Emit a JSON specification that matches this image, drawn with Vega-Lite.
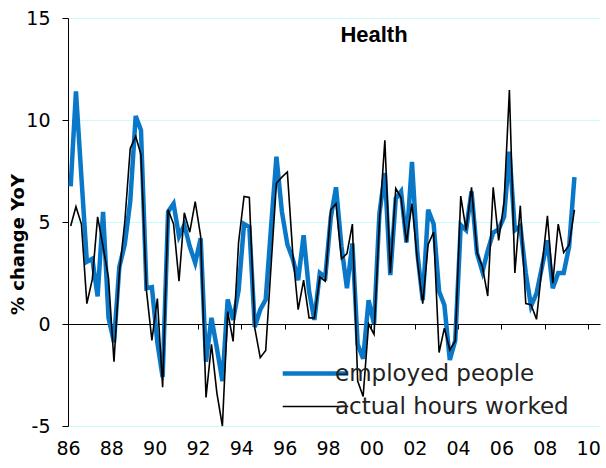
{
  "$schema": "https://vega.github.io/schema/vega-lite/v6.json",
  "width": 532,
  "height": 408,
  "autosize": "none",
  "padding": {"left": 68, "top": 18, "right": 6, "bottom": 42},
  "background": "white",
  "config": {"view": {"stroke": null}, "font": "DejaVu Sans"},
  "title": {"text": "Health", "font": "Liberation Sans", "fontSize": 22, "fontWeight": "bold", "color": "black", "anchor": "middle", "baseline": "alphabetic", "offset": 0, "dx": 40, "dy": 55},
  "data": {"values": [
    {"date": "1986-02-15", "employed people": 6.75, "actual hours worked": 4.8},
    {"date": "1986-05-15", "employed people": 11.4, "actual hours worked": 5.75},
    {"date": "1986-08-15", "employed people": 7.2, "actual hours worked": 4.9},
    {"date": "1986-11-15", "employed people": 3.05, "actual hours worked": 1.0},
    {"date": "1987-02-15", "employed people": 3.2, "actual hours worked": 2.2},
    {"date": "1987-05-15", "employed people": 1.35, "actual hours worked": 5.25},
    {"date": "1987-08-15", "employed people": 5.5, "actual hours worked": 3.8},
    {"date": "1987-11-15", "employed people": 0.3, "actual hours worked": 2.25},
    {"date": "1988-02-15", "employed people": -0.9, "actual hours worked": -1.85},
    {"date": "1988-05-15", "employed people": 2.8, "actual hours worked": 2.5},
    {"date": "1988-08-15", "employed people": 3.9, "actual hours worked": 5.0},
    {"date": "1988-11-15", "employed people": 6.0, "actual hours worked": 8.6},
    {"date": "1989-02-15", "employed people": 10.2, "actual hours worked": 9.2},
    {"date": "1989-05-15", "employed people": 9.5, "actual hours worked": 8.3},
    {"date": "1989-08-15", "employed people": 1.75, "actual hours worked": 1.65},
    {"date": "1989-11-15", "employed people": 1.8, "actual hours worked": -0.8},
    {"date": "1990-02-15", "employed people": -0.9, "actual hours worked": 1.25},
    {"date": "1990-05-15", "employed people": -2.6, "actual hours worked": -3.1},
    {"date": "1990-08-15", "employed people": 5.5, "actual hours worked": 5.6},
    {"date": "1990-11-15", "employed people": 5.9, "actual hours worked": 4.9},
    {"date": "1991-02-15", "employed people": 4.3, "actual hours worked": 2.1},
    {"date": "1991-05-15", "employed people": 4.85, "actual hours worked": 5.45},
    {"date": "1991-08-15", "employed people": 3.8, "actual hours worked": 4.5},
    {"date": "1991-11-15", "employed people": 3.0, "actual hours worked": 6.0},
    {"date": "1992-02-15", "employed people": 4.2, "actual hours worked": 4.3},
    {"date": "1992-05-15", "employed people": -1.85, "actual hours worked": -3.6},
    {"date": "1992-08-15", "employed people": 0.3, "actual hours worked": -1.0},
    {"date": "1992-11-15", "employed people": -1.2, "actual hours worked": -3.4},
    {"date": "1993-02-15", "employed people": -2.8, "actual hours worked": -5.0},
    {"date": "1993-05-15", "employed people": 1.2, "actual hours worked": 0.6},
    {"date": "1993-08-15", "employed people": 0.2, "actual hours worked": -0.85},
    {"date": "1993-11-15", "employed people": 1.65, "actual hours worked": 4.0},
    {"date": "1994-02-15", "employed people": 4.9, "actual hours worked": 6.25},
    {"date": "1994-05-15", "employed people": 4.75, "actual hours worked": 6.2},
    {"date": "1994-08-15", "employed people": -0.15, "actual hours worked": -0.2},
    {"date": "1994-11-15", "employed people": 0.7, "actual hours worked": -1.65},
    {"date": "1995-02-15", "employed people": 1.2, "actual hours worked": -1.3},
    {"date": "1995-05-15", "employed people": 4.7, "actual hours worked": 2.8},
    {"date": "1995-08-15", "employed people": 8.2, "actual hours worked": 6.9},
    {"date": "1995-11-15", "employed people": 5.5, "actual hours worked": 7.2},
    {"date": "1996-02-15", "employed people": 3.9, "actual hours worked": 7.45},
    {"date": "1996-05-15", "employed people": 3.2, "actual hours worked": 3.5},
    {"date": "1996-08-15", "employed people": 2.15, "actual hours worked": 0.7},
    {"date": "1996-11-15", "employed people": 4.35, "actual hours worked": 2.15},
    {"date": "1997-02-15", "employed people": 1.6, "actual hours worked": 0.3},
    {"date": "1997-05-15", "employed people": 0.2, "actual hours worked": 0.3},
    {"date": "1997-08-15", "employed people": 2.5, "actual hours worked": 2.3},
    {"date": "1997-11-15", "employed people": 2.3, "actual hours worked": 2.1},
    {"date": "1998-02-15", "employed people": 5.2, "actual hours worked": 5.6},
    {"date": "1998-05-15", "employed people": 6.7, "actual hours worked": 5.9},
    {"date": "1998-08-15", "employed people": 3.8, "actual hours worked": 3.2},
    {"date": "1998-11-15", "employed people": 1.75, "actual hours worked": 3.45},
    {"date": "1999-02-15", "employed people": 3.95, "actual hours worked": 4.9},
    {"date": "1999-05-15", "employed people": -1.0, "actual hours worked": -2.8},
    {"date": "1999-08-15", "employed people": -1.7, "actual hours worked": -3.55},
    {"date": "1999-11-15", "employed people": 1.17, "actual hours worked": 0.0},
    {"date": "2000-02-15", "employed people": 0.0, "actual hours worked": -0.5},
    {"date": "2000-05-15", "employed people": 5.4, "actual hours worked": 5.0},
    {"date": "2000-08-15", "employed people": 7.4, "actual hours worked": 9.0},
    {"date": "2000-11-15", "employed people": 2.4, "actual hours worked": 2.5},
    {"date": "2001-02-15", "employed people": 6.15, "actual hours worked": 6.65},
    {"date": "2001-05-15", "employed people": 6.5, "actual hours worked": 6.2},
    {"date": "2001-08-15", "employed people": 4.0, "actual hours worked": 4.0},
    {"date": "2001-11-15", "employed people": 7.95, "actual hours worked": 5.9},
    {"date": "2002-02-15", "employed people": 3.45, "actual hours worked": 3.1},
    {"date": "2002-05-15", "employed people": 1.17, "actual hours worked": 1.0},
    {"date": "2002-08-15", "employed people": 5.6, "actual hours worked": 3.9},
    {"date": "2002-11-15", "employed people": 4.9, "actual hours worked": 4.5},
    {"date": "2003-02-15", "employed people": 1.6, "actual hours worked": -1.4},
    {"date": "2003-05-15", "employed people": 0.93, "actual hours worked": -0.2},
    {"date": "2003-08-15", "employed people": -1.76, "actual hours worked": -1.27},
    {"date": "2003-11-15", "employed people": -0.8, "actual hours worked": -0.83},
    {"date": "2004-02-15", "employed people": 4.85, "actual hours worked": 6.27},
    {"date": "2004-05-15", "employed people": 4.6, "actual hours worked": 4.6},
    {"date": "2004-08-15", "employed people": 6.5, "actual hours worked": 6.7},
    {"date": "2004-11-15", "employed people": 3.47, "actual hours worked": 3.5},
    {"date": "2005-02-15", "employed people": 2.56, "actual hours worked": 2.8},
    {"date": "2005-05-15", "employed people": 3.6, "actual hours worked": 1.37},
    {"date": "2005-08-15", "employed people": 4.48, "actual hours worked": 6.7},
    {"date": "2005-11-15", "employed people": 4.64, "actual hours worked": 4.1},
    {"date": "2006-02-15", "employed people": 5.26, "actual hours worked": 6.0},
    {"date": "2006-05-15", "employed people": 8.45, "actual hours worked": 11.47},
    {"date": "2006-08-15", "employed people": 4.6, "actual hours worked": 2.5},
    {"date": "2006-11-15", "employed people": 4.8, "actual hours worked": 5.8},
    {"date": "2007-02-15", "employed people": 2.5, "actual hours worked": 1.0},
    {"date": "2007-05-15", "employed people": 0.88, "actual hours worked": 0.95},
    {"date": "2007-08-15", "employed people": 1.5, "actual hours worked": 0.23},
    {"date": "2007-11-15", "employed people": 2.8, "actual hours worked": 2.8},
    {"date": "2008-02-15", "employed people": 4.1, "actual hours worked": 5.3},
    {"date": "2008-05-15", "employed people": 1.75, "actual hours worked": 2.0},
    {"date": "2008-08-15", "employed people": 2.5, "actual hours worked": 4.9},
    {"date": "2008-11-15", "employed people": 2.5, "actual hours worked": 3.5},
    {"date": "2009-02-15", "employed people": 3.8, "actual hours worked": 3.87},
    {"date": "2009-05-15", "employed people": 7.2, "actual hours worked": 5.6}
  ]},
  "transform": [{"fold": ["employed people", "actual hours worked"], "as": ["series", "value"]}],
  "layer": [
    {
      "transform": [{"filter": "datum.series === 'employed people'"}],
      "mark": {"type": "line", "strokeWidth": 4.5},
      "encoding": {
        "x": {"field": "date", "type": "temporal",
          "scale": {"type": "utc", "domain": [{"year": 1986, "month": 1, "date": 1, "utc": true}, {"year": 2010, "month": 7, "date": 20, "utc": true}]},
          "axis": {"orient": "bottom", "title": null, "labelExpr": "utcFormat(datum.value, '%y')", "tickCount": {"interval": "year", "step": 2}, "domain": false, "ticks": false, "grid": false, "labelPadding": 13, "labelFont": "DejaVu Sans", "labelFontSize": 19, "labelColor": "black", "labelFlush": false, "labelOverlap": false}},
        "y": {"field": "value", "type": "quantitative", "scale": {"domain": [-5, 15], "nice": false, "zero": false},
          "axis": {"values": [-5, 0, 5, 10, 15], "labelExpr": "toString(datum.value)", "title": "% change YoY", "titleFont": "DejaVu Sans", "titleFontSize": 18, "titleFontWeight": "bold", "titleColor": "black", "titleX": -50, "titleY": 226, "titleBaseline": "middle", "titleAngle": 270, "labelFont": "DejaVu Sans", "labelFontSize": 19, "labelColor": "black", "labelPadding": 12, "tickSize": 6, "tickColor": "black", "domainColor": "black", "grid": true, "gridColor": "#c8fbfb"}},
        "color": {"field": "series", "type": "nominal",
          "scale": {"domain": ["employed people", "actual hours worked"], "range": ["#0a78c8", "#000000"]},
          "legend": {"orient": "none", "legendX": 236, "legendY": 344, "title": null, "symbolType": "stroke", "symbolSize": 4300, "symbolStrokeWidth": 3, "labelFont": "DejaVu Sans", "labelFontSize": 23, "labelLimit": 400, "labelColor": "#222222", "labelOffset": 8, "rowPadding": 9,
            "encode": {"symbols": {"update": {"strokeWidth": {"signal": "datum.value === 'employed people' ? 4.5 : 1.6"}}}}}}
      }
    },
    {
      "transform": [{"filter": "datum.series === 'actual hours worked'"}],
      "mark": {"type": "line", "strokeWidth": 1.6},
      "encoding": {
        "x": {"field": "date", "type": "temporal",
          "axis": {"orient": "bottom", "title": null, "offset": -102, "labels": false, "grid": false, "domain": true, "domainColor": "black", "domainWidth": 1, "ticks": true, "tickSize": 5, "tickColor": "black", "tickCount": {"interval": "year", "step": 2}}},
        "y": {"field": "value", "type": "quantitative", "scale": {"domain": [-5, 15], "nice": false, "zero": false}},
        "color": {"field": "series", "type": "nominal"}
      }
    }
  ],
  "resolve": {"axis": {"x": "independent"}}
}
